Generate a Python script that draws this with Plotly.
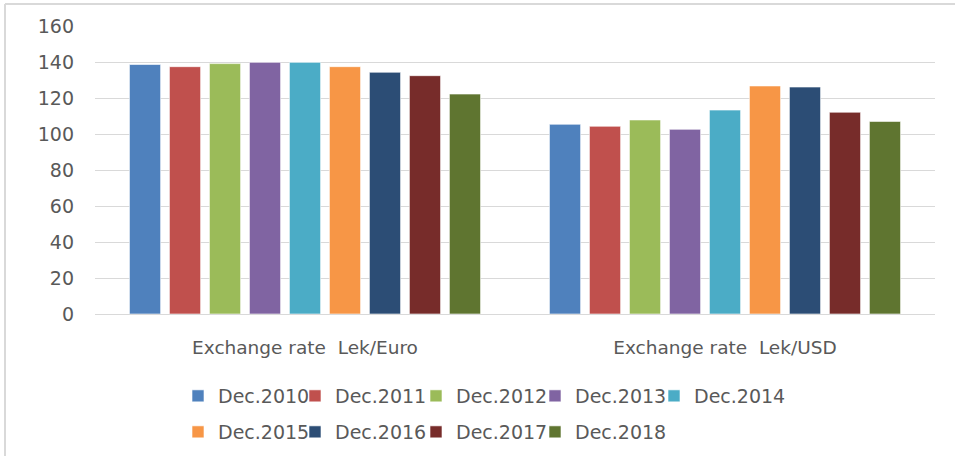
import plotly.graph_objects as go

categories = ["Exchange rate  Lek/Euro", "Exchange rate  Lek/USD"]
series_names = ["Dec.2010", "Dec.2011", "Dec.2012", "Dec.2013", "Dec.2014",
                "Dec.2015", "Dec.2016", "Dec.2017", "Dec.2018"]
euro_values = [138.6, 137.4, 139.1, 139.8, 139.8, 137.4, 134.3, 132.4, 122.2]
usd_values = [105.4, 104.3, 107.8, 102.6, 113.3, 126.7, 126.1, 112.1, 107.0]
colors = ["#4F81BD", "#C0504D", "#9BBB59", "#8064A2", "#4BACC6",
          "#F79646", "#2C4D75", "#772C2A", "#5F7530"]
y_ticks = [0, 20, 40, 60, 80, 100, 120, 140, 160]

FONT = "DejaVu Sans"
GRAY = "#595959"

W, H = 955, 456
L, R, T, B = 95, 20, 26, 142
pw, ph = W - L - R, H - T - B

def px2paper_x(px):
    return (px - L) / pw

def px2paper_y(py):
    return 1 - (py - T) / ph

# legend layout: one single-entry legend per series (5 in row 1, 4 in row 2)
legend_x_px = [178, 295, 416, 535, 654, 178, 295, 416, 535]
legend_y_px = [396] * 5 + [432] * 4

fig = go.Figure()
legend_layouts = {}
for i, name in enumerate(series_names):
    lname = "legend" if i == 0 else f"legend{i + 1}"
    fig.add_trace(go.Bar(
        x=categories,
        y=[euro_values[i], usd_values[i]],
        name=name,
        marker=dict(color=colors[i], line=dict(color="rgba(255,255,255,0.6)", width=1)),
        legend=lname,
        showlegend=True,
        hoverinfo="x+y+name",
    ))
    legend_layouts[lname] = dict(
        orientation="h",
        xref="container", yref="container",
        xanchor="left", yanchor="middle",
        x=legend_x_px[i] / W, y=1 - legend_y_px[i] / H,
        font=dict(size=19, color=GRAY, family=FONT),
        bgcolor="rgba(0,0,0,0)",
    )

fig.update_layout(
    width=W, height=H,
    showlegend=True,
    margin=dict(l=L, r=R, t=T, b=B),
    paper_bgcolor="white",
    plot_bgcolor="white",
    barmode="group",
    bargap=0.143,
    bargroupgap=0.22,
    font=dict(family=FONT, color=GRAY),
    xaxis=dict(
        showgrid=False,
        showline=True, linecolor="#d9d9d9", linewidth=1,
        ticks="",
        tickfont=dict(size=18.5, color=GRAY, family=FONT),
        ticklabelstandoff=17,
    ),
    yaxis=dict(
        range=[0, 160],
        tickvals=y_ticks,
        showgrid=True, gridcolor="#d9d9d9", gridwidth=1,
        zeroline=False,
        showline=False,
        ticks="",
        tickfont=dict(size=19, color=GRAY, family=FONT),
        ticklabelstandoff=20,
    ),
    shapes=[
        dict(type="line", xref="paper", yref="paper",
             x0=px2paper_x(5), x1=px2paper_x(5),
             y0=px2paper_y(470), y1=px2paper_y(4),
             line=dict(color="#d9d9d9", width=2)),
        dict(type="line", xref="paper", yref="paper",
             x0=px2paper_x(5), x1=px2paper_x(970),
             y0=px2paper_y(4), y1=px2paper_y(4),
             line=dict(color="#d9d9d9", width=2)),
    ],
    **legend_layouts,
)

fig.write_html("out.html", config={"displayModeBar": False},
               post_script="document.body.style.margin='0';")
